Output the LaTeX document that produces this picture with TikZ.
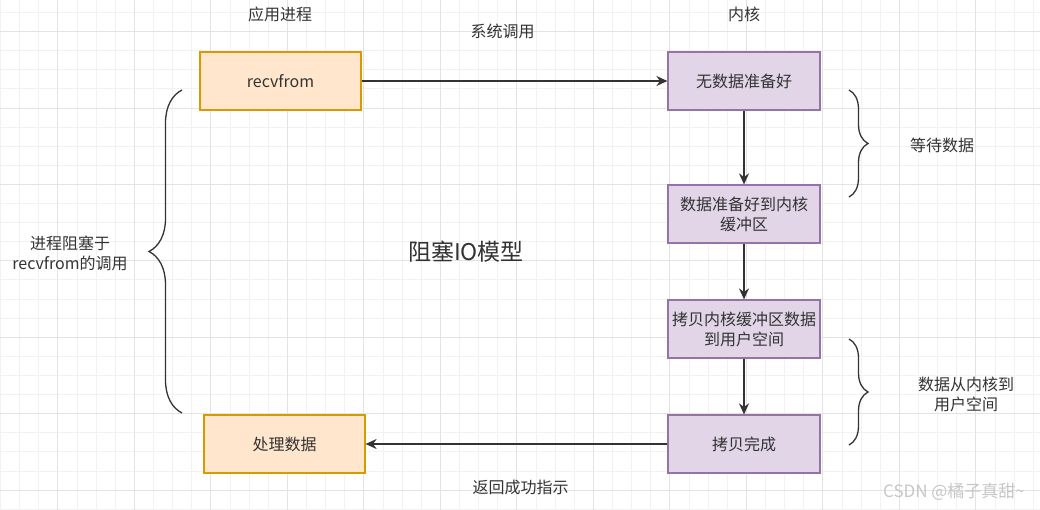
\documentclass[tikz,border=0pt]{standalone}
\usepackage{fontspec}
\setmainfont{Noto Sans CJK SC}
\usetikzlibrary{arrows.meta,decorations.pathreplacing}
\definecolor{orangefill}{HTML}{FFE6CC}
\definecolor{orangeline}{HTML}{D79B00}
\definecolor{purplefill}{HTML}{E1D5E7}
\definecolor{purpleline}{HTML}{9673A6}
\definecolor{inkgray}{HTML}{333333}
\definecolor{gridminor}{HTML}{F2F2F2}
\definecolor{gridmajor}{HTML}{E3E3E3}
\begin{document}
\begin{tikzpicture}[x=1pt, y=-1pt, >={Stealth[length=11pt,width=10pt]},
    box/.style={draw, line width=1.2pt, minimum width=152pt, minimum height=58pt, align=center, text=inkgray, font=\fontsize{16}{20}\selectfont},
    label/.style={align=center, text=inkgray, font=\fontsize{16}{20}\selectfont},
    flow/.style={->, line width=1.5pt, draw=inkgray},
    bracket/.style={decorate, decoration={brace, amplitude=#1}, line width=1.3pt, draw=inkgray}]

    % 背景网格
    \useasboundingbox (0,0) rectangle (1040,510);
    \fill[white] (0,0) rectangle (1040,510);
    \foreach \i in {0,...,54} \draw[gridminor, line width=0.8pt] ({0.4+19.125*\i},0) -- ({0.4+19.125*\i},510);
    \foreach \i in {0,...,26} \draw[gridminor, line width=0.8pt] (0,{12.5+19.1*\i}) -- (1040,{12.5+19.1*\i});
    \foreach \i in {0,...,13} \draw[gridmajor, line width=0.8pt] ({57.8+76.5*\i},0) -- ({57.8+76.5*\i},510);
    \foreach \i in {0,...,6} \draw[gridmajor, line width=0.8pt] (0,{31.6+76.4*\i}) -- (1040,{31.6+76.4*\i});

    % 应用进程
    \node[label] (app) at (280, 14) {应用进程};
    \node[box, fill=orangefill, draw=orangeline, minimum width=161pt] (recv) at (280.5, 81) {recvfrom};
    \node[box, fill=orangefill, draw=orangeline, minimum width=161pt] (proc) at (284.5, 444) {处理数据};

    % 内核
    \node[label] (kernel) at (744, 14) {内核};
    \node[box, fill=purplefill, draw=purpleline] (nodata) at (744, 81) {无数据准备好};
    \node[box, fill=purplefill, draw=purpleline] (ready) at (744, 214) {数据准备好到内核\\缓冲区};
    \node[box, fill=purplefill, draw=purpleline] (copy) at (744, 329) {拷贝内核缓冲区数据\\到用户空间};
    \node[box, fill=purplefill, draw=purpleline] (done) at (744, 444) {拷贝完成};

    % 箭头
    \draw[flow] (recv) -- node[label, above=38pt, xshift=-12pt] (syscall) {系统调用} (nodata);
    \draw[flow] (nodata) -- (ready);
    \draw[flow] (ready) -- (copy);
    \draw[flow] (copy) -- (done);
    \draw[flow] (done) -- node[label, below=32pt, xshift=4pt] (ret) {返回成功指示} (proc);

    % 括号
    \coordinate (lb1) at (182, 413);
    \coordinate (lb2) at (182, 90);
    \draw[bracket=33pt] (lb1) -- (lb2);
    \node[label] (block) at (70, 253) {进程阻塞于\\recvfrom的调用};

    \coordinate (rb1) at (849, 90);
    \coordinate (rb2) at (849, 197);
    \draw[bracket=19pt] (rb1) -- (rb2);
    \node[label] (wait) at (942, 145) {等待数据};

    \coordinate (rb3) at (849, 339);
    \coordinate (rb4) at (849, 445);
    \draw[bracket=19pt] (rb3) -- (rb4);
    \node[label] (move) at (966, 394) {数据从内核到\\用户空间};

    % 标题
    \node[text=inkgray, font=\fontsize{23}{27}\selectfont] (title) at (466, 252) {阻塞IO模型};

    % 水印
    \node[text=black!22, font=\fontsize{17}{20}\selectfont] (mark) at (954, 492) {CSDN @橘子真甜\textasciitilde};

\end{tikzpicture}
\end{document}
